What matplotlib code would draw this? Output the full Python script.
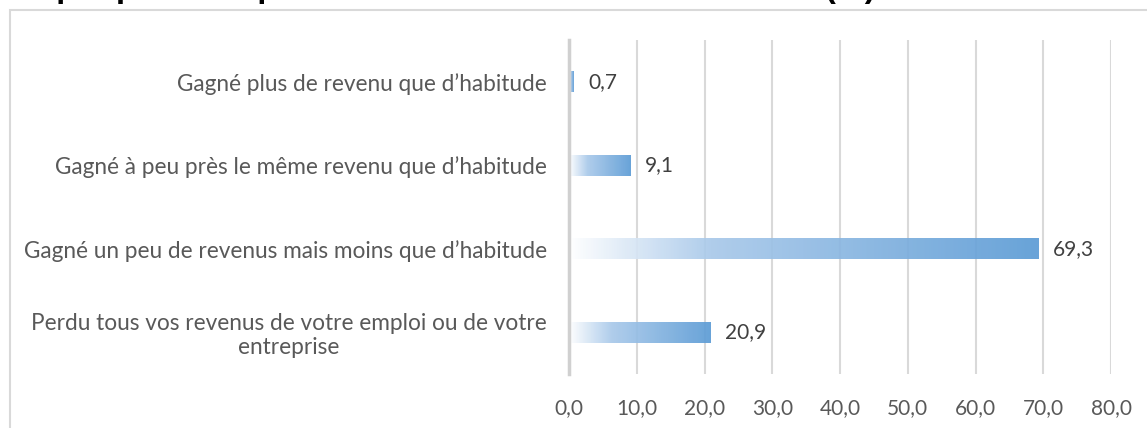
import numpy as np
import matplotlib.pyplot as plt
from matplotlib.colors import LinearSegmentedColormap
from matplotlib.patches import Rectangle

categories = [
    "Gagné plus de revenu que d’habitude",
    "Gagné à peu près le même revenu que d’habitude",
    "Gagné un peu de revenus mais moins que d’habitude",
    "Perdu tous vos revenus de votre emploi ou de votre\nentreprise",
]
values = [0.7, 9.1, 69.3, 20.9]
xticks = [0, 10, 20, 30, 40, 50, 60, 70, 80]
title = "Graphique 3 : Impact de la COVID-19 sur les revenus (%)"

plt.rcParams['font.family'] = ['Lato', 'DejaVu Sans']

W, H = 1147, 428
fig = plt.figure(figsize=(W / 100, H / 100), dpi=100)

# cadre du graphique (coupé à droite et en bas)
fig.patches.append(Rectangle((10 / W, -0.1), 1.2, 1 - 10 / H + 0.1, transform=fig.transFigure,
                             fill=False, edgecolor='#d9d9d9', linewidth=1.5))

# titre coupé en haut (seul le bas des lettres est visible)
fig.text(0, 1 + 2.5 / H, title, fontsize=23.5, fontweight='bold', va='baseline', ha='left',
         family=['Liberation Sans', 'DejaVu Sans'])

ax = fig.add_axes([569 / W, 1 - 374 / H, (1111 - 569) / W, (374 - 40) / H])

cmap = LinearSegmentedColormap.from_list('grad', [(0, '#ffffff'), (0.3, '#a9c9ea'), (1, '#5b9bd5')])
grad = np.linspace(0, 1, 256).reshape(1, -1)

ypos = np.arange(len(categories))[::-1]
bh = 0.25
for y, v in zip(ypos, values):
    ax.imshow(grad, extent=[0, v, y - bh / 2, y + bh / 2], aspect='auto', cmap=cmap,
              alpha=0.92, zorder=3, interpolation='bilinear')
    ax.text(v + 2.1, y, f"{v:.1f}".replace('.', ','), va='center', ha='left',
            fontsize=15, color='#404040')

ax.set_xlim(0, 80)
ax.set_ylim(-0.5, 3.5)
ax.set_xticks(xticks)
ax.set_xticklabels([f"{t:.1f}".replace('.', ',') for t in xticks], fontsize=15)
ax.set_yticks(ypos)
ax.set_yticklabels(categories, multialignment='center', fontsize=16.3, linespacing=1.15)
ax.tick_params(axis='both', length=0, labelcolor='#595959')
ax.tick_params(axis='x', pad=17)
ax.tick_params(axis='y', pad=16)
ax.grid(axis='x', color='#d9d9d9', linewidth=1.5, zorder=1)
ax.set_axisbelow(True)
for s in ['top', 'right', 'bottom']:
    ax.spines[s].set_visible(False)
ax.spines['left'].set_color('#d0d0d0')
ax.spines['left'].set_linewidth(2.5)
ax.spines['left'].set_zorder(4)

fig.savefig('out.png', dpi=100)
